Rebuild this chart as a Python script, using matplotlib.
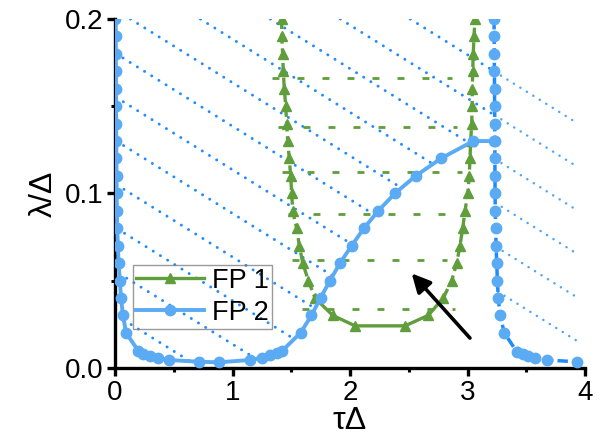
import numpy as np
import matplotlib
matplotlib.use("Agg")
import matplotlib.pyplot as plt
from matplotlib.lines import Line2D

plt.rcParams['font.family'] = ['Liberation Sans', 'DejaVu Sans']

# ---------------- data ----------------
# FP 1 (green, triangles): left branch (top->bottom), bottom, right branch (bottom->top)
fp1_tau = [1.419, 1.419, 1.427, 1.432, 1.441, 1.453, 1.461, 1.470, 1.483, 1.495,
           1.504, 1.512, 1.546, 1.569, 1.598, 1.645, 1.702, 1.853, 2.043, 2.468,
           2.666, 2.794, 2.866, 2.908, 2.936, 2.959, 2.979, 3.002, 3.015, 3.021,
           3.027, 3.036, 3.039, 3.041, 3.044, 3.049, 3.055, 3.064]
fp1_lam = [0.200, 0.190, 0.180, 0.170, 0.160, 0.150, 0.140, 0.130, 0.120, 0.110,
           0.100, 0.090, 0.080, 0.070, 0.060, 0.050, 0.040, 0.030, 0.024, 0.024,
           0.030, 0.040, 0.050, 0.060, 0.070, 0.080, 0.090, 0.100, 0.110, 0.120,
           0.130, 0.140, 0.150, 0.160, 0.170, 0.180, 0.190, 0.200]

# FP 2 (blue, circles): main curve (left branch, bottom, rising part, plateau)
fp2_tau = [0.004, 0.005, 0.006, 0.007, 0.008, 0.009, 0.010, 0.011, 0.012, 0.013,
           0.014, 0.016, 0.019, 0.024, 0.031, 0.041, 0.051, 0.068, 0.094,
           0.198, 0.241, 0.298, 0.369, 0.462, 0.717, 0.885, 1.146, 1.249, 1.319,
           1.376, 1.423,
           1.579, 1.672, 1.749, 1.830, 1.915, 2.014, 2.119, 2.241, 2.383, 2.559,
           2.774, 3.049, 3.228]
fp2_lam = [0.200, 0.190, 0.180, 0.170, 0.160, 0.150, 0.140, 0.130, 0.120, 0.110,
           0.100, 0.090, 0.080, 0.070, 0.060, 0.050, 0.040, 0.030, 0.020,
           0.0097, 0.0079, 0.0065, 0.0054, 0.0044, 0.0034, 0.0031, 0.0044, 0.0057, 0.0071,
           0.0083, 0.0097,
           0.020, 0.030, 0.040, 0.050, 0.060, 0.070, 0.080, 0.090, 0.100, 0.110,
           0.120, 0.130, 0.130]

# FP 2 right branch (dashed)
fp2r_tau = [3.226, 3.227, 3.228, 3.229, 3.230, 3.231, 3.232, 3.233, 3.233, 3.234,
            3.235, 3.236, 3.240, 3.243, 3.249, 3.254, 3.262, 3.277, 3.313,
            3.419, 3.475, 3.517, 3.574, 3.674, 3.929]
fp2r_lam = [0.200, 0.190, 0.180, 0.170, 0.160, 0.150, 0.140, 0.130, 0.120, 0.110,
            0.100, 0.090, 0.080, 0.070, 0.060, 0.050, 0.040, 0.030, 0.020,
            0.0092, 0.0079, 0.0067, 0.0054, 0.0044, 0.0034]

# dotted guide lines  lambda = c - slope * tau
guide_slope = 0.042
guide_intercepts = [0.3055, 0.2805, 0.2555, 0.2305, 0.2055, 0.1805, 0.1555,
                    0.1305, 0.1055, 0.0805, 0.0555, 0.0305]

# green horizontal dashed lines
hline_lam = [0.1664, 0.1381, 0.1120, 0.0881, 0.0615, 0.0336]
hline_tau0 = [1.336, 1.387, 1.421, 1.470, 1.506, 1.591]
hline_tau1 = [2.868, 2.911, 2.953, 2.950, 2.826, 2.894]

# arrow (tail -> head)
arrow_tail = (3.021, 0.0170)
arrow_head = (2.525, 0.0541)

xticks = [0, 1, 2, 3, 4]
yticks = [0.0, 0.1, 0.2]
ytick_labels = ["0.0", "0.1", "0.2"]

# ---------------- style ----------------
GREEN = '#5f9e3b'
BLUE_L = '#5aabf3'
BLUE_D = '#1e8cff'
BLUE_R = '#4fa6f7'

fig = plt.figure(figsize=(6.04, 4.46), dpi=100)
ax = fig.add_axes([115/604, 1-367.7/446, 470/604, 348.7/446])
ax.set_xlim(0, 4)
ax.set_ylim(0, 0.2)

# dotted guide lines
tau = np.linspace(0, fp2r_tau[-1], 3000)
bl = np.interp(tau, fp2_tau, fp2_lam)
br = np.interp(tau, fp2r_tau, fp2r_lam)
for c in guide_intercepts:
    lam = c - guide_slope * tau
    mL = (tau <= fp2_tau[-1]) & (lam > bl) & (lam <= 0.2)
    mR = (tau >= fp2r_tau[0]) & (lam > br) & (lam <= 0.2)
    if mL.any():
        ax.plot(tau, np.where(mL, lam, np.nan), color=BLUE_D, lw=2.1,
                dashes=(0.05, 2.85), dash_capstyle='round', zorder=1)
    if mR.any():
        ax.plot(tau, np.where(mR, lam, np.nan), color=BLUE_R, lw=1.8,
                dashes=(0.05, 3.0), dash_capstyle='round', zorder=1)

# green horizontal dashed lines
for y, x0, x1 in zip(hline_lam, hline_tau0, hline_tau1):
    ax.plot([x0, x1], [y, y], color=GREEN, lw=2.0, dashes=(2.5, 6.5), zorder=2)

# FP 1
f1t = np.array(fp1_tau); f1l = np.array(fp1_lam)
iL = 16   # index where left branch reaches the bottom part
iR = 21   # index where right branch starts
ax.plot(f1t[:iL+1], f1l[:iL+1], color=GREEN, lw=2.4, dashes=(3, 1.4), zorder=3)
ax.plot(f1t[iL:iR+1], f1l[iL:iR+1], color=GREEN, lw=2.4, zorder=3)
ax.plot(f1t[iR:], f1l[iR:], color=GREEN, lw=2.4, dashes=(3, 1.4), zorder=3)
ax.plot(f1t, f1l, ls='none', marker='^', ms=7.5, color=GREEN, mec=GREEN, zorder=3)

# FP 2
ax.plot(fp2r_tau, fp2r_lam, color=BLUE_D, lw=2.5, dashes=(3, 1.2), zorder=4)
ax.plot(fp2r_tau, fp2r_lam, ls='none', marker='o', ms=7.5, color=BLUE_L, mec=BLUE_L, zorder=4)
ax.plot(fp2_tau, fp2_lam, color=BLUE_L, lw=2.8, marker='o', ms=7.5, mec=BLUE_L, zorder=5)

# arrow
ax.annotate('', xy=arrow_head, xytext=arrow_tail,
            arrowprops=dict(arrowstyle='-|>', color='black', lw=2.6,
                            mutation_scale=28, shrinkA=0, shrinkB=0), zorder=6)

# legend
handles = [Line2D([], [], color=GREEN, lw=2.4, marker='^', ms=7.5),
           Line2D([], [], color=BLUE_L, lw=2.8, marker='o', ms=7.5)]
leg = ax.legend(handles, ['FP 1', 'FP 2'], loc='lower left',
                bbox_to_anchor=(0.0385, 0.111), borderaxespad=0,
                fontsize=19.5, frameon=True, fancybox=False, facecolor='none',
                edgecolor='#808080', handlelength=2.5, handletextpad=0.3,
                borderpad=0.12, labelspacing=0.22, numpoints=1)
leg.get_frame().set_linewidth(1.0)

# axes styling
for s in ['top', 'right']:
    ax.spines[s].set_visible(False)
for s in ['left', 'bottom']:
    ax.spines[s].set_linewidth(2.4)
ax.set_xticks(xticks)
ax.set_xticklabels([str(v) for v in xticks])
ax.set_yticks(yticks)
ax.set_yticklabels(ytick_labels)
ax.set_xticks(np.arange(0.5, 4, 1.0), minor=True)
ax.set_yticks([0.05, 0.15], minor=True)
ax.tick_params(which='major', direction='out', length=5.5, width=2.4, labelsize=20, pad=3)
ax.tick_params(which='minor', direction='out', length=3, width=2.2)
ax.set_xlabel('τΔ', fontsize=23, labelpad=0)
ax.set_ylabel('λ/Δ', fontsize=23, labelpad=4)

fig.savefig('out.png', dpi=100)
